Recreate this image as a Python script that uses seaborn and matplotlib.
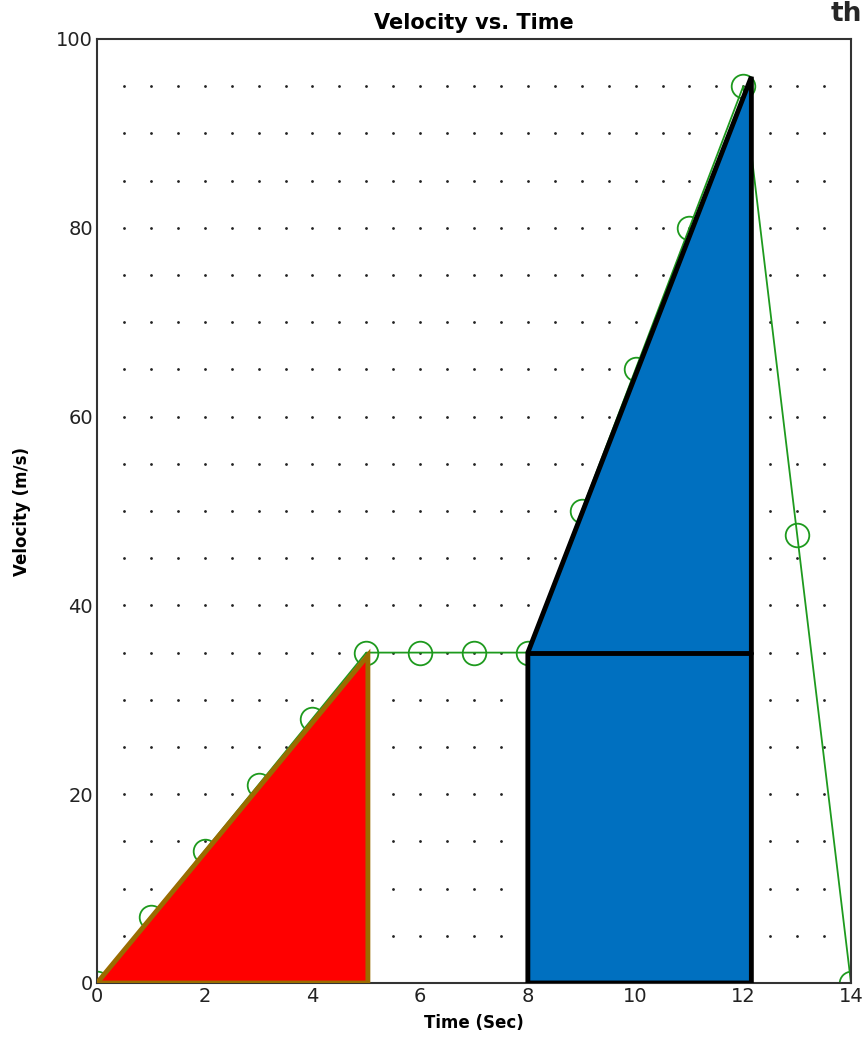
import numpy as np
import pandas as pd
import matplotlib
matplotlib.use("Agg")
import matplotlib.pyplot as plt
import seaborn as sns
from matplotlib.patches import Polygon

# data
time_s = [0, 1, 2, 3, 4, 5, 6, 7, 8, 9, 10, 11, 12, 13, 14]
velocity = [0, 7, 14, 21, 28, 35, 35, 35, 35, 50, 65, 80, 95, 47.5, 0]
red_tri_x = [0, 5.03, 5.03]
red_tri_y = [0, 34.7, 0]
blue_x = [8, 8, 12.15, 12.15]
blue_y = [0, 35, 96, 0]
mid_line_y = 35
x_ticks = [0, 2, 4, 6, 8, 10, 12, 14]
y_ticks = [0, 20, 40, 60, 80, 100]

sns.set_style("white")
plt.rcParams['font.family'] = ['DejaVu Sans']

fig = plt.figure(figsize=(8.63, 10.39), dpi=100)
ax = fig.add_axes([97/863, 1-983/1039, (851-97)/863, (983-39)/1039])

# dotted grid
gx, gy = np.meshgrid(np.arange(0.5, 14, 0.5), np.arange(5, 100, 5))
ax.scatter(gx.ravel(), gy.ravel(), s=4, color="#222222", zorder=0, linewidths=0)

df = pd.DataFrame({"t": time_s, "v": velocity})
sns.lineplot(data=df, x="t", y="v", ax=ax, color="#1e9a1e", linewidth=1.3,
             marker="o", markersize=17, markerfacecolor="none",
             markeredgecolor="#1e9a1e", markeredgewidth=1.3, zorder=2)

ax.add_patch(Polygon(list(zip(red_tri_x, red_tri_y)), closed=True,
                     facecolor="#ff0000", edgecolor="#9a6c00", linewidth=3.5, zorder=3))
ax.add_patch(Polygon(list(zip(blue_x, blue_y)), closed=True,
                     facecolor="#0070c0", edgecolor="black", linewidth=3.5, zorder=3))
ax.plot([blue_x[0], blue_x[-1]], [mid_line_y, mid_line_y], color="black", linewidth=3.5, zorder=4)

ax.set_xlim(0, 14)
ax.set_ylim(0, 100)
ax.set_xticks(x_ticks)
ax.set_yticks(y_ticks)
ax.set_xticks(np.arange(0, 14.01, 0.5), minor=True)
ax.set_yticks(np.arange(0, 100.01, 5), minor=True)
ax.tick_params(axis="both", which="major", direction="in", length=6, width=1.2,
               labelsize=14, colors="#222222", pad=3)
ax.tick_params(axis="both", which="minor", direction="in", length=3, width=1)
for s in ax.spines.values():
    s.set_visible(True)
    s.set_color("#333333")
    s.set_linewidth(1.5)

ax.set_xlabel("Time (Sec)", fontsize=12, fontweight="bold", labelpad=6, color="black")
ax.set_ylabel("Velocity (m/s)", fontsize=12, fontweight="bold", labelpad=18, color="black")
ax.set_title("Velocity vs. Time", fontsize=15, fontweight="bold", pad=7, color="black")
fig.text(0.962, 0.999, "th", fontsize=19, fontweight="bold", ha="left", va="top")

fig.savefig("out.png", dpi=100)
